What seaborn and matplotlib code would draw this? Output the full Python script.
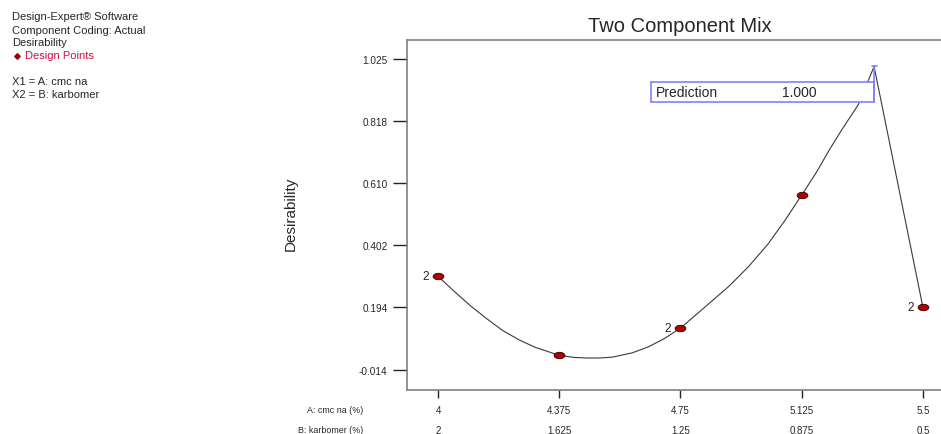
import numpy as np
import matplotlib
matplotlib.use("Agg")
import matplotlib.pyplot as plt
from matplotlib.path import Path
from matplotlib.markers import MarkerStyle
from matplotlib.patches import Rectangle
import seaborn as sns

# design points (A: cmc na %, B: karbomer %, desirability)
a_vals = [4.0, 4.375, 4.75, 5.125, 5.5]
b_vals = [2.0, 1.625, 1.25, 0.875, 0.5]
a_labels = ["4", "4.375", "4.75", "5.125", "5.5"]
b_labels = ["2", "1.625", "1.25", "0.875", "0.5"]
point_y = [0.298, 0.034, 0.125, 0.570, 0.195]
reps = ["2", "", "2", "", "2"]

# desirability curve
curve_x = [4.00, 4.05, 4.10, 4.15, 4.20, 4.25, 4.30, 4.375, 4.42, 4.46, 4.50, 4.54,
           4.60, 4.65, 4.70, 4.75, 4.82, 4.90, 4.96, 5.02, 5.07, 5.125, 5.17, 5.21,
           5.25, 5.30, 5.349, 5.50]
curve_y = [0.298, 0.248, 0.200, 0.157, 0.117, 0.086, 0.061, 0.034, 0.027, 0.025, 0.025, 0.028,
           0.042, 0.062, 0.090, 0.125, 0.190, 0.265, 0.330, 0.405, 0.480, 0.570, 0.645, 0.720,
           0.790, 0.872, 1.000, 0.195]

y_ticks = [-0.014, 0.194, 0.402, 0.610, 0.818, 1.025]
pred_x, pred_y = 5.349, 1.000

sns.set_style("white")
plt.rcParams["font.family"] = ["Liberation Sans", "DejaVu Sans"]

fig = plt.figure(figsize=(9.41, 4.35), dpi=100)
W, H = 941, 435
ax = fig.add_axes([407 / W, 1 - 391 / H, (941 - 407) / W, (391 - 40.7) / H])

sns.lineplot(x=curve_x, y=curve_y, sort=False, color="#3a3a3a", lw=0.8, ax=ax)

circ = Path.unit_circle()
ell = Path(circ.vertices * np.array([1.0, 0.6]), circ.codes)
sns.scatterplot(x=a_vals, y=point_y, marker=MarkerStyle(ell), s=60,
                color="#b00000", edgecolor="#300000", linewidth=0.6, zorder=5, ax=ax)
for x, y, r in zip(a_vals, point_y, reps):
    if r:
        ax.annotate(r, (x, y), xytext=(-9, 0), textcoords="offset points",
                    ha="center", va="center", fontsize=8.5, color="#222222")

# prediction flag
box_w, box_h = 0.689, 0.067
box_top = 0.949
ax.add_patch(Rectangle((pred_x - box_w, box_top - box_h), box_w, box_h,
                       facecolor="white", edgecolor="#8080ff", lw=1.2, zorder=6))
ax.plot([pred_x, pred_x], [pred_y, box_top - box_h], color="#8080ff", lw=1.2, zorder=6)
ax.plot([pred_x - 0.008, pred_x + 0.008], [pred_y, pred_y], color="#8080ff", lw=1.2, zorder=6)
ax.text(pred_x - box_w + 0.013, box_top - box_h / 2, "Prediction", fontsize=10,
        va="center", ha="left", zorder=7)
ax.text(pred_x - 0.285, box_top - box_h / 2, "1.000", fontsize=10,
        va="center", ha="left", zorder=7)

ax.set_xlim(3.904, 5.556)
ax.set_ylim(-0.082, 1.0896)
ax.set_yticks(y_ticks)
ax.set_yticklabels(["%.3f" % v for v in y_ticks], fontsize=7.2)
ax.set_xticks(a_vals)
ax.set_xticklabels([])
ax.tick_params(axis="y", left=True, direction="out", length=10, width=1, color="#222222", pad=4)
ax.tick_params(axis="x", bottom=True, direction="out", length=6, width=1, color="#222222")
for side in ["left", "bottom", "top"]:
    ax.spines[side].set_color("#808080")
    ax.spines[side].set_linewidth(1.2)
ax.spines["right"].set_visible(False)

for x, la, lb in zip(a_vals, a_labels, b_labels):
    ax.annotate(la, (x, 0), xycoords=ax.get_xaxis_transform(), xytext=(0, -14.2),
                textcoords="offset points", ha="center", va="center", fontsize=7)
    ax.annotate(lb, (x, 0), xycoords=ax.get_xaxis_transform(), xytext=(0, -28.6),
                textcoords="offset points", ha="center", va="center", fontsize=7)
fig.text(363 / W, 1 - 410.5 / H, "A: cmc na (%)", ha="right", va="center", fontsize=6.4)
fig.text(363 / W, 1 - 430.5 / H, "B: karbomer (%)", ha="right", va="center", fontsize=6.4)

ax.set_ylabel("Desirability", fontsize=11)
ax.yaxis.set_label_coords(-0.204, 0.505)

fig.text(680 / W, 1 - 27 / H, "Two Component Mix", ha="center", va="center", fontsize=14.5)

# legend / info block
info = [("Design-Expert\u00ae Software", 16.7), ("Component Coding: Actual", 30.5),
        ("Desirability", 43.3), ("X1 = A: cmc na", 81.7), ("X2 = B: karbomer", 95)]
for t, yy in info:
    fig.text(12 / W, 1 - yy / H, t, ha="left", va="center", fontsize=8)
fig.text(25 / W, 1 - 56 / H, "Design Points", ha="left", va="center", fontsize=8,
         color="#cc1144")
fig.lines.append(plt.Line2D([17 / W], [1 - 56.5 / H], marker="D", markersize=2.8,
                            color="#900000", transform=fig.transFigure))

fig.savefig("out.png", dpi=100)
